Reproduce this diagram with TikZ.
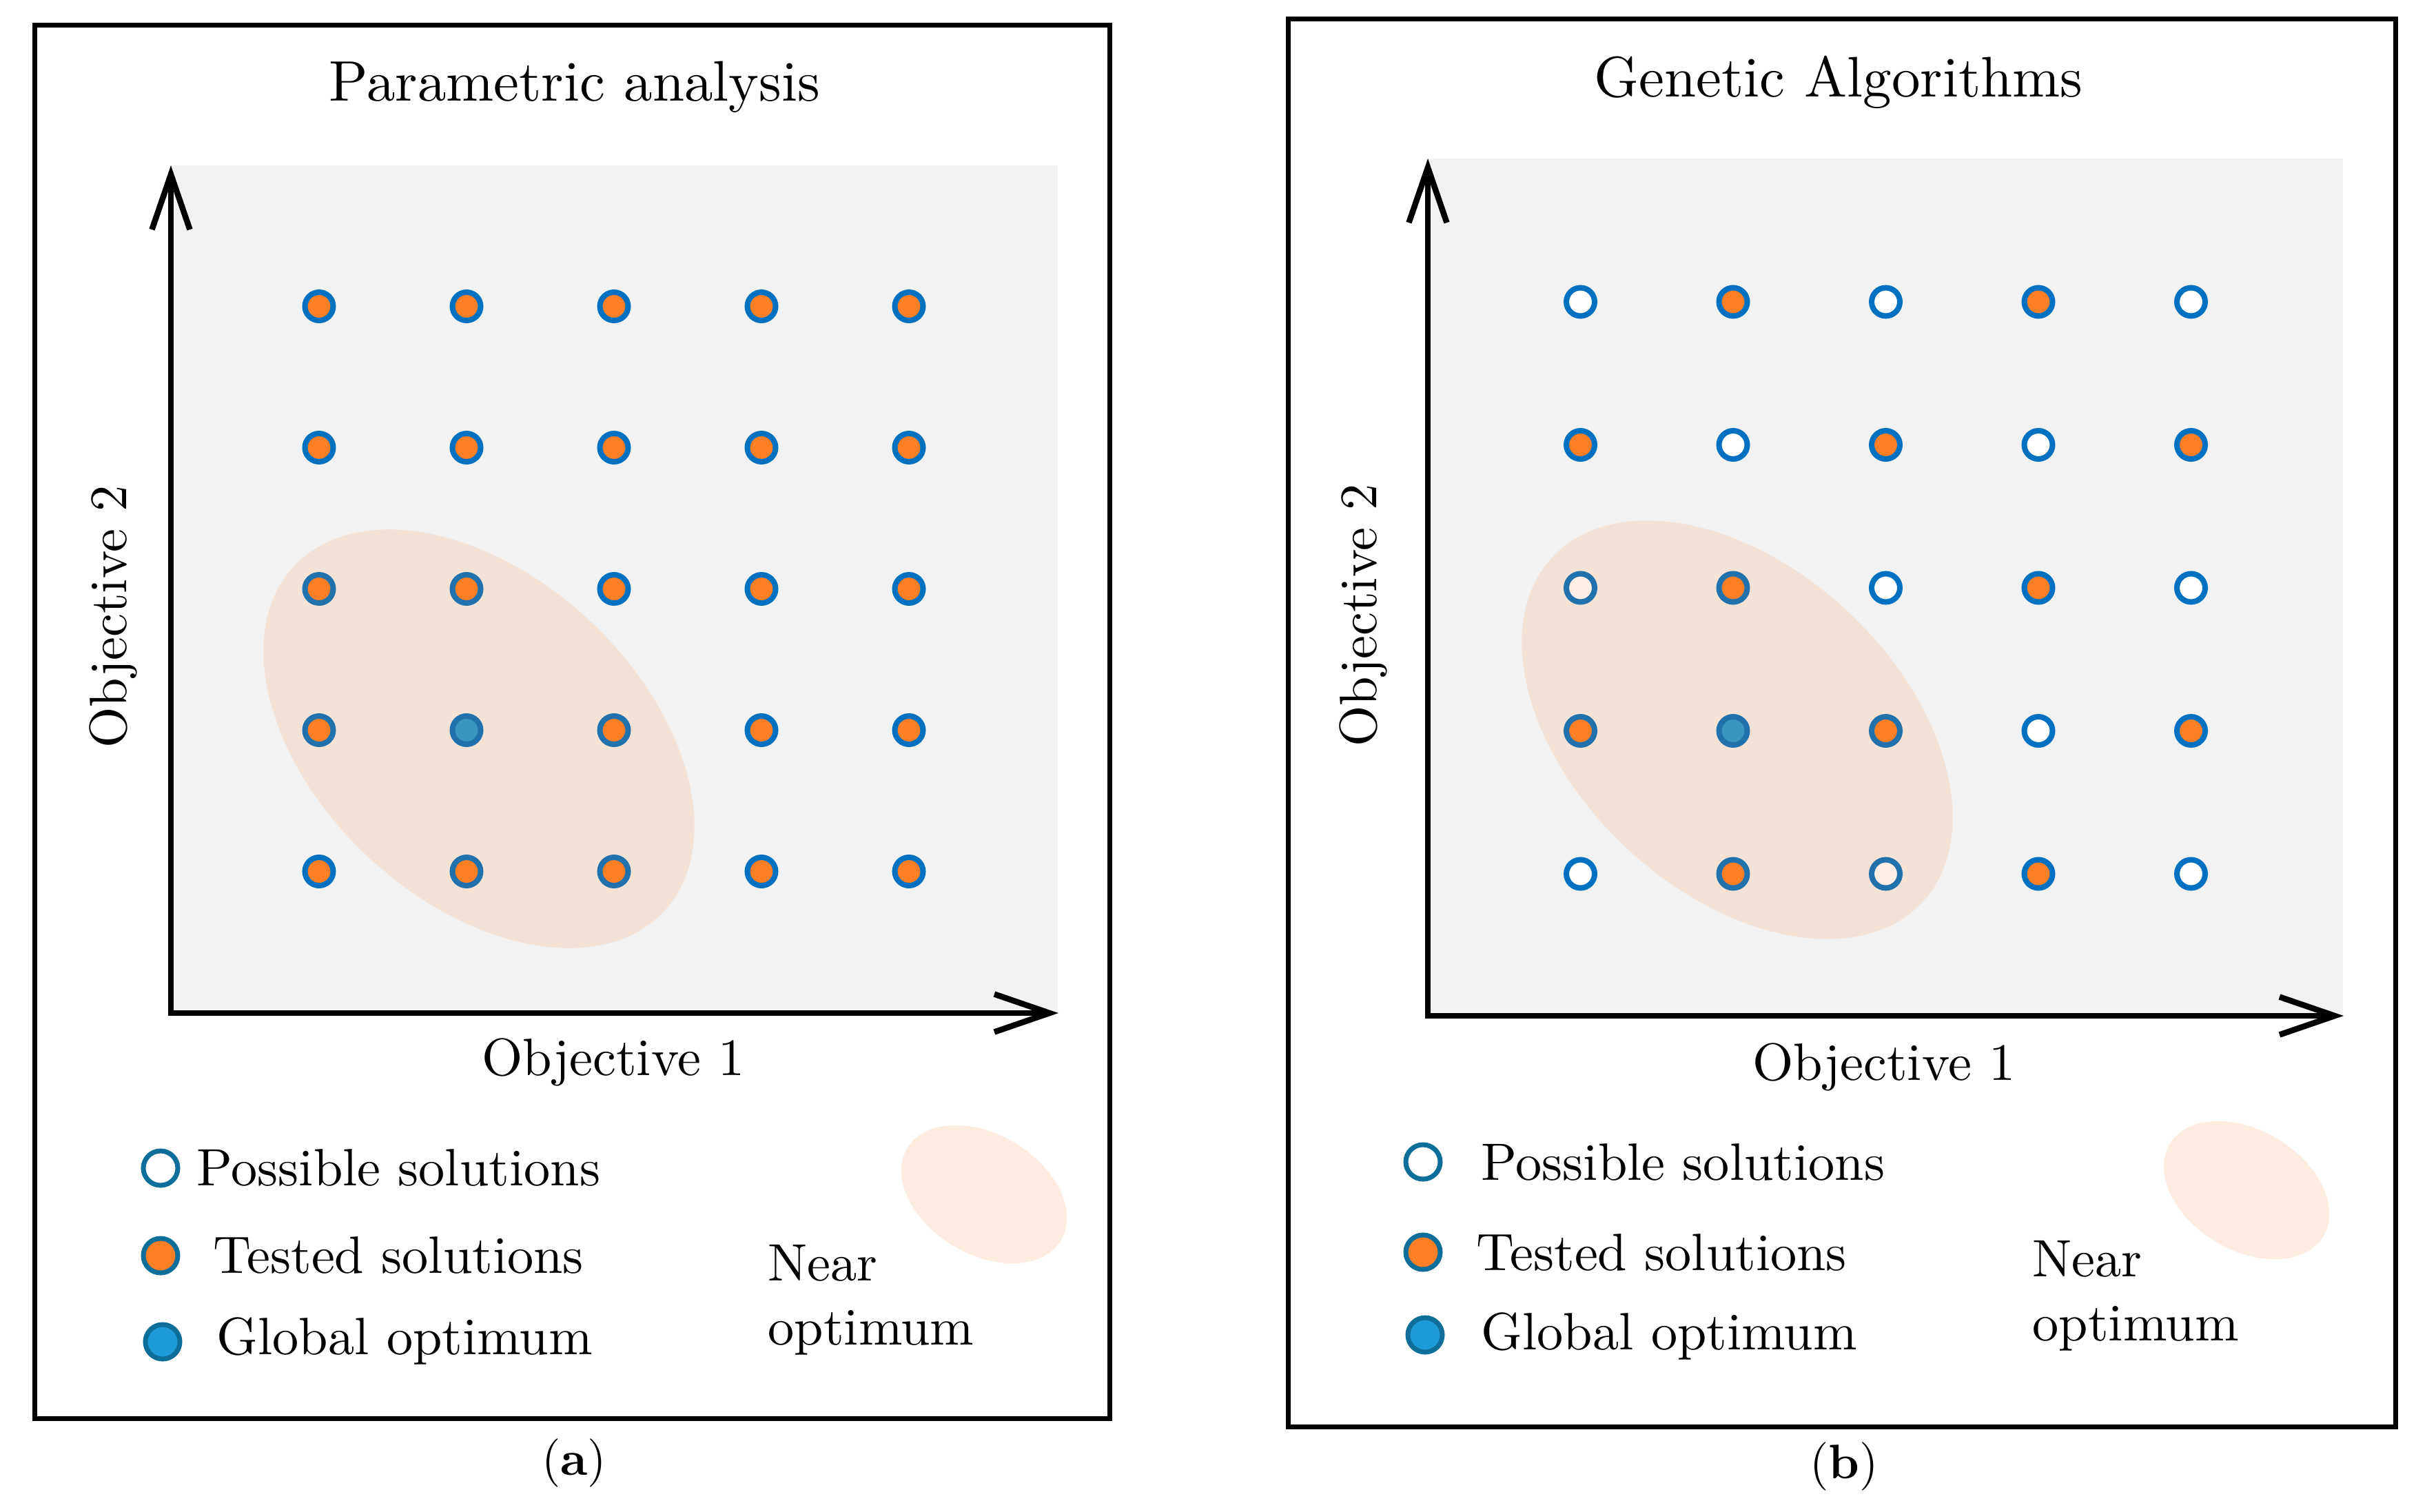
\documentclass[tikz,border=0pt]{standalone}
\usepackage{amsmath}
\usepackage{fontspec}
\setmainfont{lmroman10-regular}[Extension=.otf, BoldFont=lmroman10-bold]
\usepackage{tikz}
\usetikzlibrary{arrows.meta}

\definecolor{plotbg}{HTML}{F2F2F2}
\definecolor{solblue}{HTML}{0070C0}
\definecolor{keyblue}{HTML}{0E6E9A}
\definecolor{solorange}{HTML}{FF7F27}
\definecolor{optblue}{HTML}{1E9AD6}

\newcommand{\legendsize}{\fontsize{21.7}{26.5}\selectfont}
\newcommand{\titlesize}{\fontsize{23.6}{28}\selectfont}
\newcommand{\capsize}{\fontsize{20}{24}\selectfont}

\begin{document}
\begin{tikzpicture}[x=1cm, y=-1cm,
    panel box/.style={draw=black, line width=0.07cm},
    objaxis/.style={line width=0.085cm, {Straight Barb[length=0.8cm,width=0.55cm]}-{Straight Barb[length=0.8cm,width=0.55cm]}},
    dot/.style={circle, draw=solblue, line width=0.08cm, minimum size=0.41cm, inner sep=0pt},
    key dot/.style={circle, draw=keyblue, line width=0.07cm, minimum size=0.5cm, inner sep=0pt},
    near zone/.style={fill=solorange, fill opacity=0.13},
    txt/.style={font=\legendsize, inner sep=0pt}]
    \path[fill=white] (0,0) rectangle (35.35,21.93);

    % (a) parametric analysis
    \draw[panel box] (0.50,0.36) rectangle (16.10,20.58);
    \node[font=\titlesize, inner sep=0pt, anchor=base] (ta) at (8.34,1.46) {Parametric analysis};
    \fill[plotbg] (2.48,2.40) rectangle (15.35,14.70);
    \coordinate (oa) at (2.48,14.70);
    \coordinate (ya) at (2.48,2.40);
    \coordinate (xa) at (15.36,14.70);
    \draw[objaxis] (ya) -- (oa) -- (xa);
    \node[txt, anchor=base] (x1a) at (8.90,15.60) {Objective 1};
    \node[txt, anchor=base, rotate=90] (y2a) at (1.83,8.95) {Objective 2};
    \foreach \i in {1,...,5}
      \foreach \j in {1,...,5} {
        \def\fc{solorange}
        \ifnum\i\j=42 \def\fc{optblue}\fi
        \node[dot, fill=\fc] (pa-\i-\j) at ({4.63+2.14*(\j-1)},{4.445+2.05*(\i-1)}) {};
      }
    \fill[near zone, rotate around={-43:(6.95,10.72)}] (6.95,10.72) ellipse [x radius=3.67, y radius=2.35];

    % legend (a)
    \node[key dot, fill=white] (ka-1) at (2.33,16.95) {};
    \node[key dot, fill=solorange] (ka-2) at (2.33,18.22) {};
    \node[key dot, fill=optblue] (ka-3) at (2.36,19.47) {};
    \node[txt, anchor=base west] (la-1) at (2.85,17.20) {Possible solutions};
    \node[txt, anchor=base west] (la-2) at (3.09,18.47) {Tested solutions};
    \node[txt, anchor=base west] (la-3) at (3.14,19.65) {Global optimum};
    \fill[near zone, fill opacity=0.14, rotate around={-31:(14.28,17.33)}] (14.28,17.33) ellipse [x radius=1.30, y radius=0.87];
    \node[txt, anchor=north west, align=left] (na) at (11.14,18.06) {Near\\optimum};
    \node[font=\capsize, inner sep=0pt, anchor=base] (ca) at (8.33,21.40) {(\textbf{a})};

    % (b) genetic algorithms
    \draw[panel box] (18.69,0.27) rectangle (34.76,20.70);
    \node[font=\titlesize, inner sep=0pt, anchor=base] (tb) at (26.68,1.40) {Genetic Algorithms};
    \fill[plotbg] (20.72,2.30) rectangle (34.00,14.74);
    \coordinate (ob) at (20.72,14.74);
    \coordinate (yb) at (20.72,2.30);
    \coordinate (xb) at (34.01,14.74);
    \draw[objaxis] (yb) -- (ob) -- (xb);
    \node[txt, anchor=base] (x1b) at (27.34,15.67) {Objective 1};
    \node[txt, anchor=base, rotate=90] (y2b) at (19.97,8.93) {Objective 2};
    \foreach \i in {1,...,5}
      \foreach \j in {1,...,5} {
        \def\fc{white}
        \ifodd\numexpr\i+\j\relax \def\fc{solorange}\fi
        \ifnum\i\j=42 \def\fc{optblue}\fi
        \node[dot, fill=\fc] (pb-\i-\j) at ({22.935+2.215*(\j-1)},{4.38+2.075*(\i-1)}) {};
      }
    \fill[near zone, rotate around={-43:(25.21,10.59)}] (25.21,10.59) ellipse [x radius=3.67, y radius=2.35];

    % legend (b)
    \node[key dot, fill=white] (kb-1) at (20.65,16.86) {};
    \node[key dot, fill=solorange] (kb-2) at (20.65,18.17) {};
    \node[key dot, fill=optblue] (kb-3) at (20.68,19.37) {};
    \node[txt, anchor=base west] (lb-1) at (21.49,17.12) {Possible solutions};
    \node[txt, anchor=base west] (lb-2) at (21.42,18.43) {Tested solutions};
    \node[txt, anchor=base west] (lb-3) at (21.49,19.58) {Global optimum};
    \fill[near zone, fill opacity=0.14, rotate around={-31:(32.60,17.27)}] (32.60,17.27) ellipse [x radius=1.30, y radius=0.87];
    \node[txt, anchor=north west, align=left] (nb) at (29.49,18.00) {Near\\optimum};
    \node[font=\capsize, inner sep=0pt, anchor=base] (cb) at (26.76,21.45) {(\textbf{b})};
\end{tikzpicture}
\end{document}
